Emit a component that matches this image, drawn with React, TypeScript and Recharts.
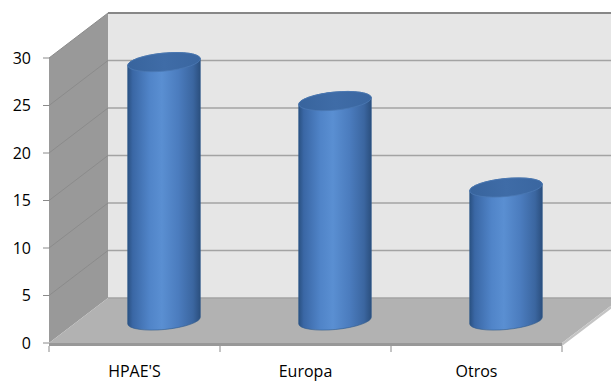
import React from 'react';
import { BarChart, Bar, XAxis, YAxis, CartesianGrid } from 'recharts';

const categories = ["HPAE'S", 'Europa', 'Otros'];
const values = [27.2, 23.1, 14];
const yTicks = [0, 5, 10, 15, 20, 25, 30];

const data = categories.map((name, i) => ({ name, value: values[i] }));

// chart box
const W = 611;
const H = 382;
const AXIS_W = 49;
const AXIS_H = 39;
const M = { top: 58, right: 49, bottom: 0, left: 0 };
const PLOT_LEFT = M.left + AXIS_W;
const PLOT_RIGHT = W - M.right;
const PLOT_TOP = M.top;
const PLOT_BOTTOM = H - M.bottom - AXIS_H;

// oblique depth of the 3-D box (back wall sits up and to the right)
const DX = 59;
const DY = -45;
const FAR_RIGHT = W + 40;
const TILT = -5.5;
const CAP_RY = 9;

const FONT = "'Open Sans', 'Noto Sans', sans-serif";

// walls + floor drawn once, then each horizontal grid value gets a diagonal
// on the side wall and a line on the back wall
function gridLine(props: any) {
  const y = props.y1;
  const left = PLOT_LEFT;
  const by = y + DY;
  const isTop = Math.abs(y - PLOT_TOP) < 0.5;
  const isBottom = Math.abs(y - PLOT_BOTTOM) < 0.5;
  return (
    <g key={`g-${props.index}`}>
      {props.index === 0 && (
        <g>
          <polygon
            points={`${left + DX},${PLOT_TOP + DY} ${FAR_RIGHT},${PLOT_TOP + DY} ${FAR_RIGHT},${PLOT_BOTTOM + DY} ${left + DX},${PLOT_BOTTOM + DY}`}
            fill="#e6e6e6"
          />
          <polygon
            points={`${left},${PLOT_TOP} ${left + DX},${PLOT_TOP + DY} ${left + DX},${PLOT_BOTTOM + DY} ${left},${PLOT_BOTTOM}`}
            fill="#999999"
          />
          <polygon
            points={`${left},${PLOT_BOTTOM} ${left + DX},${PLOT_BOTTOM + DY} ${PLOT_RIGHT + DX},${PLOT_BOTTOM + DY} ${PLOT_RIGHT},${PLOT_BOTTOM}`}
            fill="#b2b2b2"
          />
          <rect x={left} y={PLOT_BOTTOM} width={PLOT_RIGHT - left} height={3} fill="#989898" />
          <polygon
            points={`${PLOT_RIGHT},${PLOT_BOTTOM} ${PLOT_RIGHT + DX},${PLOT_BOTTOM + DY} ${PLOT_RIGHT + DX},${PLOT_BOTTOM + DY + 3} ${PLOT_RIGHT},${PLOT_BOTTOM + 3}`}
            fill="#c4c4c4"
          />
        </g>
      )}
      {!isBottom && (
        <line x1={left} y1={y} x2={left + DX} y2={by} stroke="#8b8b8b" strokeWidth={1} />
      )}
      <line
        x1={left + DX}
        y1={by}
        x2={FAR_RIGHT}
        y2={by}
        stroke={isTop ? '#878787' : '#a3a3a3'}
        strokeWidth={isTop ? 2 : 1.5}
      />
    </g>
  );
}

function Cylinder(props: any) {
  const { x, y, width, height, index } = props;
  const rx = width / 2;
  const cx = x + rx + DX / 2;
  const top = y + DY / 2;
  const base = y + height + DY / 2;
  const t = (TILT * Math.PI) / 180;
  const ox = rx * Math.cos(t);
  const oy = rx * Math.sin(t);
  const id = `cyl-${index}`;
  const body = [
    `M ${cx - ox} ${top - oy}`,
    `L ${cx - ox} ${base - oy}`,
    `A ${rx} ${CAP_RY} ${TILT} 0 0 ${cx + ox} ${base + oy}`,
    `L ${cx + ox} ${top + oy}`,
    `A ${rx} ${CAP_RY} ${TILT} 0 0 ${cx - ox} ${top - oy}`,
    'Z',
  ].join(' ');
  return (
    <g>
      <defs>
        <linearGradient id={`${id}-body`} x1="0" y1="0" x2="1" y2="0">
          <stop offset="0" stopColor="#2a5182" />
          <stop offset="0.07" stopColor="#3a67a5" />
          <stop offset="0.3" stopColor="#5084c8" />
          <stop offset="0.47" stopColor="#5a8fd2" />
          <stop offset="0.7" stopColor="#4b7cbe" />
          <stop offset="0.9" stopColor="#3b66a0" />
          <stop offset="1" stopColor="#2b4f7e" />
        </linearGradient>
        <linearGradient id={`${id}-cap`} x1="0" y1="0" x2="1" y2="0">
          <stop offset="0" stopColor="#38649d" />
          <stop offset="0.5" stopColor="#3f6ca7" />
          <stop offset="1" stopColor="#3a66a0" />
        </linearGradient>
      </defs>
      <path d={body} fill={`url(#${id}-body)`} stroke="#2f5a8c" strokeWidth={0.6} />
      <ellipse
        cx={cx}
        cy={top}
        rx={rx}
        ry={CAP_RY}
        transform={`rotate(${TILT} ${cx} ${top})`}
        fill={`url(#${id}-cap)`}
        stroke="#4a78b3"
        strokeWidth={0.8}
      />
    </g>
  );
}

// label centred in the band, tick marks on the band edges
function CategoryTick(props: any) {
  const { x, y, payload } = props;
  const half = payload.offset ?? (PLOT_RIGHT - PLOT_LEFT) / categories.length / 2;
  const isLast = payload.index === categories.length - 1;
  return (
    <g>
      <line x1={x - half} y1={y + 3} x2={x - half} y2={y + 9} stroke="#8a8a8a" />
      {isLast && <line x1={x + half} y1={y + 3} x2={x + half} y2={y + 9} stroke="#8a8a8a" />}
      <text x={x} y={y + 34} textAnchor="middle" fontSize={16} fontFamily={FONT} fill="#000">
        {payload.value}
      </text>
    </g>
  );
}

export default function App() {
  return (
    <div style={{ position: 'absolute', left: 0, top: 0, width: W, height: H, background: '#fff' }}>
      <BarChart width={W} height={H} data={data} margin={M}>
        <CartesianGrid vertical={false} horizontal={gridLine} />
        <XAxis
          dataKey="name"
          axisLine={false}
          tickLine={false}
          tickSize={0}
          tickMargin={0}
          height={AXIS_H}
          interval={0}
          tick={<CategoryTick />}
        />
        <YAxis
          domain={[0, 30]}
          ticks={yTicks}
          width={AXIS_W}
          axisLine={false}
          tickSize={6}
          tickMargin={12}
          tickLine={{ stroke: '#8a8a8a' }}
          tick={{ fontSize: 16, fontFamily: FONT, fill: '#000' }}
        />
        <Bar dataKey="value" barSize={73} shape={Cylinder} isAnimationActive={false} />
      </BarChart>
    </div>
  );
}
